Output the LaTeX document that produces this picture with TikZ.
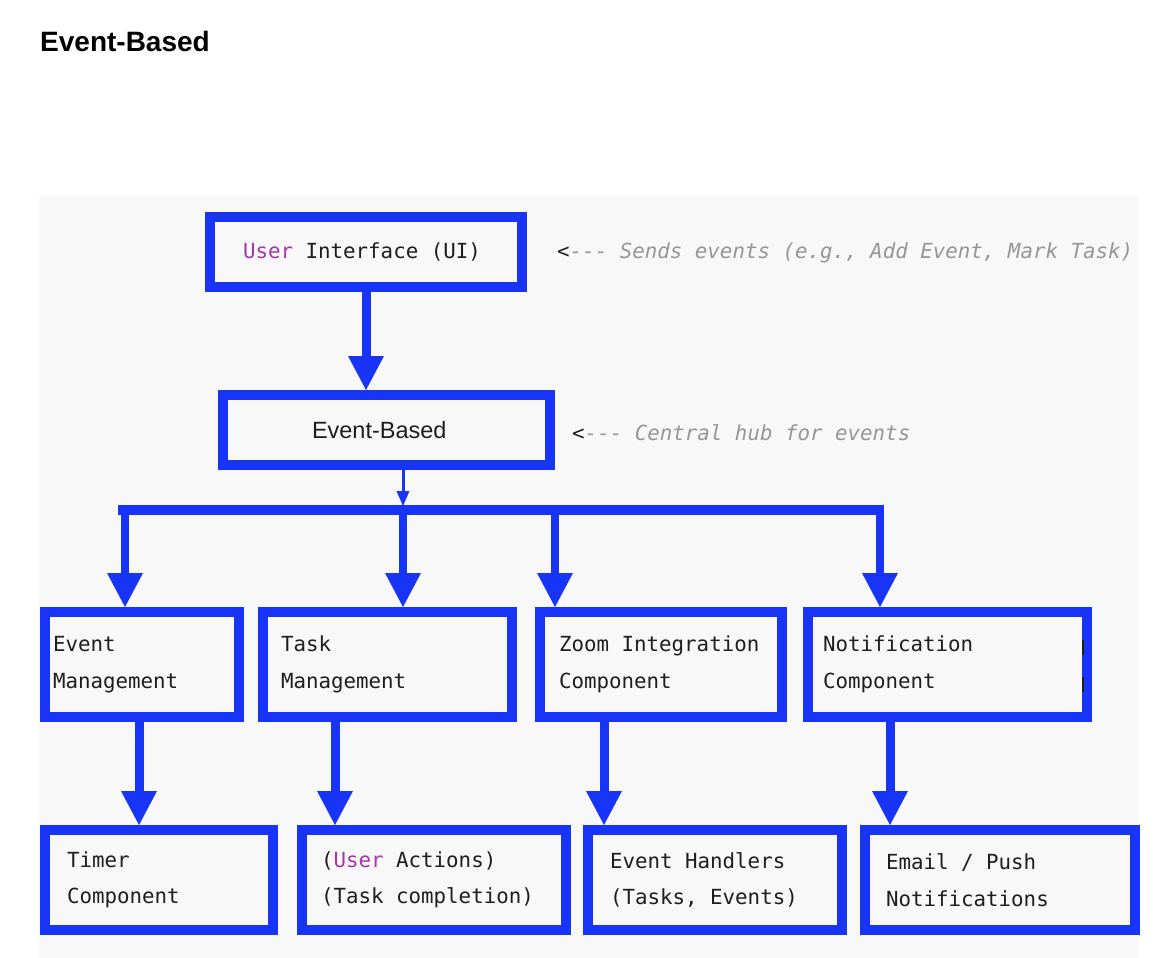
\documentclass[tikz,border=0pt]{standalone}
\usepackage{fontspec}
\usetikzlibrary{arrows.meta}
\newfontfamily\monofam[WordSpace={1,0,0}]{DejaVu Sans Mono}
\newfontfamily\sansfam{Liberation Sans}
\definecolor{blu}{RGB}{24,52,246}
\definecolor{ink}{RGB}{30,30,30}
\definecolor{usr}{RGB}{165,55,168}
\definecolor{notegray}{RGB}{150,150,150}
\definecolor{panel}{RGB}{248,248,248}
\begin{document}
\begin{tikzpicture}[x=1pt,y=-1pt,
  box/.style={draw=blu, line width=10pt, outer sep=5pt, inner ysep=0pt, align=flush left,
    anchor=north west, text=ink, font=\monofam\fontsize{20.8pt}{36.5pt}\selectfont},
  arr/.style={draw=blu, line width=9pt, -{Triangle[length=34pt,width=36pt,line width=0pt]}},
  thinarr/.style={draw=blu, line width=3pt, -{Triangle[length=15pt,width=13pt,line width=0pt]}},
  note/.style={anchor=west, inner sep=0pt, text=notegray,
    font=\monofam\itshape\fontsize{20.8pt}{24pt}\selectfont},
  busline/.style={draw=blu, line width=10pt}
]
\useasboundingbox (0,0) rectangle (1168,958);
\fill[white] (0,0) rectangle (1168,958);
\fill[panel] (39,196) rectangle (1138,958);

% title
\node[anchor=base west, inner sep=0pt, font=\sansfam\bfseries\fontsize{28pt}{32pt}\selectfont, text=black] (title) at (40,52) {Event-Based};

% top boxes
\node[box, minimum height=70pt, inner xsep=33pt, text width=246pt] (ui) at (205,212)
  {{\color{usr}User} Interface (UI)};
\node[box, minimum height=70pt, inner xsep=89pt, text width=149pt,
  font=\sansfam\fontsize{23.5pt}{28pt}\selectfont] (eb) at (218,390) {Event-Based};

% notes
\node[note] (n1) at (557,253) {{\color{ink}<}-{}-{}- Sends events (e.g., Add Event, Mark Task)};
\node[note] (n2) at (572,433) {{\color{ink}<}-{}-{}- Central hub for events};

% row 2
\node[box, minimum height=105pt, inner xsep=8pt, text width=178pt] (em) at (40,607) {Event\\Management};
\node[box, minimum height=105pt, inner xsep=18pt, text width=213pt] (tm) at (258,607) {Task\\Management};
\node[box, minimum height=105pt, inner xsep=19pt, text width=204pt] (zi) at (535,607) {Zoom Integration\\Component};
\node[box, minimum height=105pt, inner xsep=15pt, text width=249pt] (nc) at (803,607) {Notification\\Component};

% row 3
\node[box, minimum height=100pt, inner xsep=22pt, text width=184pt] (tc) at (40,825) {Timer\\Component};
\node[box, minimum height=100pt, inner xsep=19pt, text width=226pt] (ua) at (297,825) {({\color{usr}User} Actions)\\(Task completion)};
\node[box, minimum height=100pt, inner xsep=22pt, text width=210pt] (eh) at (583,825) {Event Handlers\\(Tasks, Events)};
\node[box, minimum height=100pt, inner xsep=21pt, text width=228pt] (ep) at (860,825) {Email / Push\\Notifications};

% small bars inside the notification box
\draw[ink, line width=2pt] (1083,640) -- (1083,655);
\draw[ink, line width=2pt] (1083,677) -- (1083,692);

% UI -> Event-Based
\draw[arr] (ui.south) -- (ui.south |- eb.north);

% bus
\coordinate (busL) at (118,510);
\coordinate (busR) at (884,510);
\coordinate (b1) at (125,510);
\coordinate (b2) at (403,510);
\coordinate (b3) at (555,510);
\coordinate (b4) at (880,510);
\draw[busline] (busL) -- (busR);
\draw[thinarr, shorten >=4pt] (eb.south -| b2) -- (b2);
\draw[arr, line width=8pt] (b1) -- (b1 |- em.north);
\draw[arr, line width=8pt] (b2) -- (b2 |- tm.north);
\draw[arr, line width=8pt] (b3) -- (b3 |- zi.north);
\draw[arr, line width=8pt] (b4) -- (b4 |- nc.north);

% row 2 -> row 3
\coordinate (d1) at (139,0);
\coordinate (d2) at (335,0);
\coordinate (d3) at (604,0);
\coordinate (d4) at (890,0);
\draw[arr] (em.south -| d1) -- (tc.north -| d1);
\draw[arr] (tm.south -| d2) -- (ua.north -| d2);
\draw[arr] (zi.south -| d3) -- (eh.north -| d3);
\draw[arr] (nc.south -| d4) -- (ep.north -| d4);
\end{tikzpicture}
\end{document}
